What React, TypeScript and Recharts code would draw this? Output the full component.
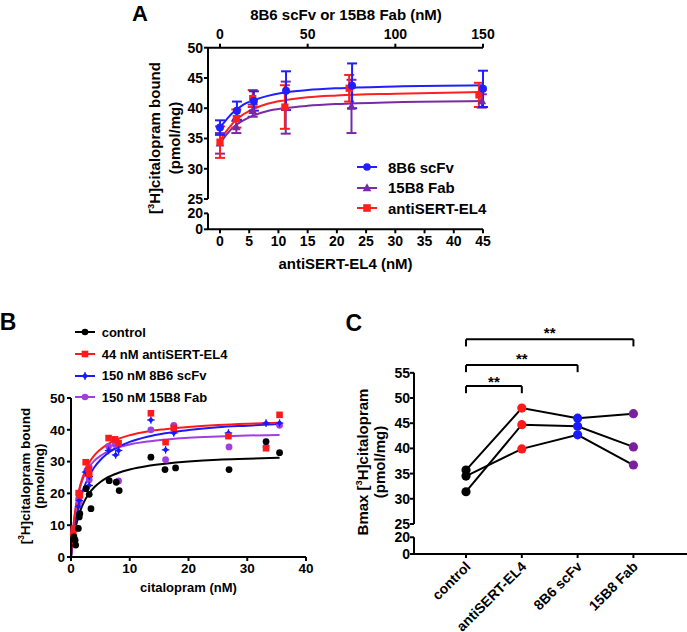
import React from 'react';
import { ComposedChart, Line, Scatter, XAxis, YAxis, ErrorBar, ReferenceLine, ReferenceDot, Legend } from 'recharts';

const FONT = '"Liberation Sans", Arial, Helvetica, sans-serif';

// ---------------- Panel A data ----------------
const aXTicks = [0, 5, 10, 15, 20, 25, 30, 35, 40, 45];
const aTopTicks = [0, 50, 100, 150];
const aYTicks = [0, 20, 25, 30, 35, 40, 45, 50];

// antibody concentration (top axis, nM) used for 8B6 scFv / 15B8 Fab
const aTopConc = [0, 9.4, 18.75, 37.5, 75, 150];

const aScFvX = [0, 2.9, 5.8, 11.3, 22.6, 45.0];
const aScFvY = [36.8, 39.6, 41.2, 42.9, 43.7, 43.2];
const aScFvErr = [1.2, 1.5, 1.6, 3.2, 3.7, 3.0];

const aFabX = [0, 2.8, 5.6, 11.25, 22.5, 44.8];
const aFabY = [34.2, 36.9, 39.6, 40.1, 40.3, 41.2];
const aFabErr = [1.7, 1.0, 1.0, 4.3, 4.4, 1.1];

const aEl4X = [0, 2.8, 5.6, 11.1, 22.1, 44.3];
const aEl4Y = [34.4, 38.3, 41.6, 40.2, 43.3, 42.2];
const aEl4Err = [2.6, 1.5, 1.4, 3.6, 2.2, 2.0];

const aFitX = [0, 1, 2, 3, 4, 6, 8, 11, 15, 20, 30, 45];
const aScFvFit = [36.8, 38.0, 39.1, 39.9, 40.6, 41.4, 42.0, 42.6, 43.0, 43.3, 43.6, 43.8];
const aEl4Fit = [34.6, 36.1, 37.3, 38.3, 39.0, 40.0, 40.7, 41.3, 41.8, 42.1, 42.4, 42.7];
const aFabFit = [34.2, 35.5, 36.6, 37.4, 38.0, 38.9, 39.5, 40.0, 40.4, 40.7, 41.0, 41.2];

// ---------------- Panel B data ----------------
const bXTicks = [0, 10, 20, 30, 40];
const bYTicks = [0, 10, 20, 30, 40, 50];

const bCtrlX = [0.5, 0.7, 0.8, 1.25, 1.4, 1.5, 2.55, 3.1, 3.4, 6.5, 7.7, 8.2, 13.6, 16.0, 17.8, 26.9, 33.2, 35.5];
const bCtrlY = [6.3, 5.3, 3.75, 9.0, 12.6, 13.6, 21.5, 19.7, 15.2, 24.0, 23.5, 20.9, 31.4, 27.5, 28.0, 27.5, 36.3, 32.8];

const bEl4X = [0.4, 0.5, 1.3, 1.5, 2.5, 3.0, 3.1, 6.4, 7.5, 8.1, 13.6, 16.1, 17.5, 26.8, 33.2, 35.5];
const bEl4Y = [7.3, 8.9, 20.1, 19.4, 29.8, 27.7, 26.0, 37.4, 37.0, 35.8, 45.2, 36.1, 40.6, 38.0, 34.2, 44.7];

const bScFvX = [0.5, 1.3, 1.4, 2.5, 3.1, 3.1, 6.4, 7.6, 8.1, 13.6, 16.1, 17.5, 26.8, 33.2, 35.5];
const bScFvY = [8.4, 15.9, 17.8, 26.7, 25.3, 22.5, 33.5, 32.1, 33.5, 43.1, 33.7, 39.0, 39.0, 42.1, 42.1];

const bFabX = [0.5, 1.3, 1.4, 2.7, 3.1, 3.1, 6.4, 7.5, 8.1, 13.6, 16.1, 17.5, 26.9, 33.2, 35.5];
const bFabY = [8.9, 18.3, 17.3, 27.2, 28.3, 24.3, 34.8, 35.4, 23.9, 40.0, 30.6, 41.4, 34.6, 34.6, 41.4];

const bFitX = [0, 0.5, 1, 1.5, 2, 3, 4, 5, 6, 8, 10, 13, 16, 20, 25, 30, 35.5];
const bCtrlFit = [0, 6.6, 11.0, 14.1, 16.5, 19.8, 22.0, 23.6, 24.8, 26.4, 27.5, 28.6, 29.3, 30.0, 30.6, 30.9, 31.2];
const bEl4Fit = [0, 11.0, 17.6, 22.0, 25.1, 29.3, 32.0, 33.8, 35.2, 37.1, 38.3, 39.5, 40.2, 40.9, 41.5, 41.9, 42.2];
const bScFvFit = [0, 7.9, 13.5, 17.6, 20.7, 25.2, 28.3, 30.5, 32.2, 34.6, 36.2, 37.8, 38.9, 39.9, 40.8, 41.3, 41.8];
const bFabFit = [0, 11.4, 17.7, 21.7, 24.5, 28.1, 30.3, 31.8, 32.9, 34.4, 35.4, 36.3, 36.9, 37.5, 37.9, 38.2, 38.4];

// ---------------- Panel C data ----------------
const cCats = ['control', 'antiSERT-EL4', '8B6 scFv', '15B8 Fab'];
const cExp1 = [35.7, 48.0, 46.0, 46.9];
const cExp2 = [31.4, 44.7, 44.4, 40.3];
const cExp3 = [34.5, 39.9, 42.7, 36.7];
const cYTicks = [0, 20, 25, 30, 35, 40, 45, 50, 55];
const cBrackets = [
  { from: 1, to: 2, y: 52.36, star: 53.3 },
  { from: 1, to: 3, y: 56.53, star: 57.9 },
  { from: 1, to: 4, y: 61.64, star: 62.9 },
];

// ---------------- colours ----------------
const A_BLUE = '#1f1fff';
const A_RED = '#ff1f1f';
const A_PURPLE = '#7b2aa5';
const B_BLACK = '#000000';
const B_RED = '#ff1a1a';
const B_BLUE = '#1a1aff';
const B_PURPLE = '#a23de0';
const C_COLORS = ['#000000', '#ff1a1a', '#1a1aff', '#7a1fa0'];

// broken-axis helpers (values >= 25 unchanged, lower segment compressed)
const aBreak = (v: number) => (v >= 25 ? v : 20 + (v / 20) * 2.63);
const cBreak = (v: number) => (v >= 25 ? v : 19.04 + (v / 20) * 3.32);

const mark = (kind: string, cx: number, cy: number, s: number, color: string) => {
  if (cx == null || cy == null) return <g />;
  switch (kind) {
    case 'square':
      return <rect x={cx - s} y={cy - s} width={2 * s} height={2 * s} fill={color} />;
    case 'triangle':
      return (
        <polygon
          points={`${cx},${cy - s * 1.25} ${cx + s * 1.15},${cy + s * 0.85} ${cx - s * 1.15},${cy + s * 0.85}`}
          fill={color}
        />
      );
    case 'diamond':
      return (
        <g>
          <polygon points={`${cx},${cy - s} ${cx + s},${cy} ${cx},${cy + s} ${cx - s},${cy}`} fill={color} />
          <line x1={cx - s - 0.8} x2={cx + s + 0.8} y1={cy} y2={cy} stroke={color} strokeWidth={1.2} />
          <line x1={cx} x2={cx} y1={cy - s - 0.8} y2={cy + s + 0.8} stroke={color} strokeWidth={1.2} />
        </g>
      );
    default:
      return <circle cx={cx} cy={cy} r={s} fill={color} />;
  }
};

const tickStyle = (size: number) => ({ fill: '#000', fontSize: size, fontWeight: 700, fontFamily: FONT });
const axisLineStyle = { stroke: '#000', strokeWidth: 2 };

const Sup3 = () => (
  <span style={{ fontSize: '0.62em', verticalAlign: '0.6em', lineHeight: 0 }}>3</span>
);

const Txt = ({ x, y, size, rot = 0, lh, children }: any) => (
  <div
    style={{
      position: 'absolute',
      left: x,
      top: y,
      transform: `translate(-50%, -50%) rotate(${rot}deg)`,
      fontFamily: FONT,
      fontWeight: 700,
      fontSize: size,
      lineHeight: lh ? `${lh}px` : 'normal',
      whiteSpace: 'nowrap',
      textAlign: 'center',
      color: '#000',
    }}
  >
    {children}
  </div>
);

const LegendBox = ({ items, fontSize, rowH, lineW, gap, ms }: any) => (
  <div style={{ fontFamily: FONT, fontWeight: 700, fontSize, color: '#000' }}>
    {items.map((it: any) => (
      <div key={it.name} style={{ display: 'flex', alignItems: 'center', height: rowH, whiteSpace: 'nowrap' }}>
        <svg width={lineW} height={14} style={{ marginRight: gap, flex: 'none' }}>
          <line x1={0} x2={lineW} y1={7} y2={7} stroke={it.color} strokeWidth={2} />
          {mark(it.shape, lineW / 2, 7, ms, it.color)}
        </svg>
        <span>{it.name}</span>
      </div>
    ))}
  </div>
);

const aLegendItems = [
  { name: '8B6 scFv', color: A_BLUE, shape: 'circle' },
  { name: '15B8 Fab', color: A_PURPLE, shape: 'triangle' },
  { name: 'antiSERT-EL4', color: A_RED, shape: 'square' },
];
const bLegendItems = [
  { name: 'control', color: B_BLACK, shape: 'circle' },
  { name: '44 nM antiSERT-EL4', color: B_RED, shape: 'square' },
  { name: '150 nM 8B6 scFv', color: B_BLUE, shape: 'diamond' },
  { name: '150 nM 15B8 Fab', color: B_PURPLE, shape: 'circle' },
];

const zip = (xs: number[], ys: number[], errs?: number[]) =>
  xs.map((x, i) => (errs ? { x, y: ys[i], err: errs[i] } : { x, y: ys[i] }));

// ---------------- Panel A ----------------
const A_XMIN = -2.05;
function PanelA() {
  const yLabels = new Map(aYTicks.map((t) => [aBreak(t), String(t)]));
  return (
    <ComposedChart width={687} height={290} margin={{ top: 17.7, right: 204, bottom: 30.7, left: 158 }}>
      <XAxis
        dataKey="x"
        type="number"
        domain={[A_XMIN, 45]}
        ticks={aXTicks}
        interval={0}
        height={30}
        tick={tickStyle(14)}
        tickSize={4}
        tickMargin={3}
        axisLine={axisLineStyle}
        tickLine={axisLineStyle}
      />
      <XAxis
        xAxisId="top"
        dataKey="x"
        orientation="top"
        type="number"
        domain={[-6.84, 150]}
        ticks={aTopTicks}
        interval={0}
        height={30}
        tick={tickStyle(14)}
        tickSize={4}
        tickMargin={5}
        axisLine={axisLineStyle}
        tickLine={axisLineStyle}
      />
      <YAxis
        dataKey="y"
        type="number"
        domain={[aBreak(0), 50]}
        ticks={aYTicks.map(aBreak)}
        tickFormatter={(v: number) => yLabels.get(v) ?? ''}
        interval={0}
        width={50}
        tick={tickStyle(14)}
        tickSize={4}
        tickMargin={1}
        axisLine={false}
        tickLine={axisLineStyle}
      />
      <ReferenceLine
        segment={[{ x: A_XMIN, y: 25 }, { x: A_XMIN, y: 50 }]}
        stroke="#000"
        strokeWidth={2}
        ifOverflow="visible"
      />
      <ReferenceLine
        segment={[{ x: A_XMIN, y: aBreak(0) }, { x: A_XMIN, y: aBreak(20) }]}
        stroke="#000"
        strokeWidth={2}
        ifOverflow="visible"
      />
      <Legend
        layout="vertical"
        align="center"
        verticalAlign="middle"
        wrapperStyle={{ left: 357, top: 157, width: 'auto', height: 'auto' }}
        content={() => <LegendBox items={aLegendItems} fontSize={15} rowH={20.5} lineW={20} gap={11} ms={3.8} />}
      />
      {/* invisible series tying the top (antibody nM) axis to the scFv data */}
      <Line
        xAxisId="top"
        data={zip(aTopConc, aScFvY)}
        dataKey="y"
        stroke="none"
        dot={false}
        activeDot={false}
        isAnimationActive={false}
        legendType="none"
      />
      <Line data={zip(aFitX, aFabFit)} dataKey="y" type="monotone" stroke={A_PURPLE} strokeWidth={2} dot={false} isAnimationActive={false} legendType="none" />
      <Line data={zip(aFitX, aEl4Fit)} dataKey="y" type="monotone" stroke={A_RED} strokeWidth={2} dot={false} isAnimationActive={false} legendType="none" />
      <Line data={zip(aFitX, aScFvFit)} dataKey="y" type="monotone" stroke={A_BLUE} strokeWidth={2} dot={false} isAnimationActive={false} legendType="none" />
      <Scatter data={zip(aFabX, aFabY, aFabErr)} fill={A_PURPLE} isAnimationActive={false} shape={(p: any) => mark('triangle', p.cx, p.cy, 3.8, A_PURPLE)}>
        <ErrorBar dataKey="err" direction="y" width={5} stroke={A_PURPLE} strokeWidth={2} />
      </Scatter>
      <Scatter data={zip(aEl4X, aEl4Y, aEl4Err)} fill={A_RED} isAnimationActive={false} shape={(p: any) => mark('square', p.cx, p.cy, 3.6, A_RED)}>
        <ErrorBar dataKey="err" direction="y" width={5} stroke={A_RED} strokeWidth={2} />
      </Scatter>
      <Scatter data={zip(aScFvX, aScFvY, aScFvErr)} fill={A_BLUE} isAnimationActive={false} shape={(p: any) => mark('circle', p.cx, p.cy, 4, A_BLUE)}>
        <ErrorBar dataKey="err" direction="y" width={5} stroke={A_BLUE} strokeWidth={2} />
      </Scatter>
    </ComposedChart>
  );
}

// ---------------- Panel B ----------------
function PanelB() {
  return (
    <ComposedChart width={340} height={320} margin={{ top: 88, right: 34, bottom: 43, left: 31 }}>
      <XAxis
        dataKey="x"
        type="number"
        domain={[0, 40]}
        ticks={bXTicks}
        interval={0}
        height={30}
        tick={tickStyle(13.5)}
        tickSize={4}
        tickMargin={2}
        axisLine={axisLineStyle}
        tickLine={axisLineStyle}
      />
      <YAxis
        dataKey="y"
        type="number"
        domain={[0, 50]}
        ticks={bYTicks}
        interval={0}
        width={40}
        tick={tickStyle(13.5)}
        tickSize={4}
        tickMargin={2}
        axisLine={axisLineStyle}
        tickLine={axisLineStyle}
      />
      <Legend
        layout="vertical"
        align="center"
        verticalAlign="middle"
        wrapperStyle={{ left: 75, top: 11.5, width: 'auto', height: 'auto' }}
        content={() => <LegendBox items={bLegendItems} fontSize={13} rowH={21.7} lineW={20} gap={6.7} ms={3.3} />}
      />
      <Line data={zip(bFitX, bCtrlFit)} dataKey="y" type="monotone" stroke={B_BLACK} strokeWidth={2} dot={false} isAnimationActive={false} legendType="none" />
      <Line data={zip(bFitX, bFabFit)} dataKey="y" type="monotone" stroke={B_PURPLE} strokeWidth={2} dot={false} isAnimationActive={false} legendType="none" />
      <Line data={zip(bFitX, bScFvFit)} dataKey="y" type="monotone" stroke={B_BLUE} strokeWidth={2} dot={false} isAnimationActive={false} legendType="none" />
      <Line data={zip(bFitX, bEl4Fit)} dataKey="y" type="monotone" stroke={B_RED} strokeWidth={2} dot={false} isAnimationActive={false} legendType="none" />
      <Scatter data={zip(bFabX, bFabY)} fill={B_PURPLE} isAnimationActive={false} shape={(p: any) => mark('circle', p.cx, p.cy, 3.4, B_PURPLE)} />
      <Scatter data={zip(bScFvX, bScFvY)} fill={B_BLUE} isAnimationActive={false} shape={(p: any) => mark('diamond', p.cx, p.cy, 3, B_BLUE)} />
      <Scatter data={zip(bEl4X, bEl4Y)} fill={B_RED} isAnimationActive={false} shape={(p: any) => mark('square', p.cx, p.cy, 3.3, B_RED)} />
      <Scatter data={zip(bCtrlX, bCtrlY)} fill={B_BLACK} isAnimationActive={false} shape={(p: any) => mark('circle', p.cx, p.cy, 3.4, B_BLACK)} />
    </ComposedChart>
  );
}

// ---------------- Panel C ----------------
const C_XMIN = 0.068;
const CTick = (p: any) => {
  const { x, y, payload } = p;
  const tx = x + 2;
  const ty = y + 4;
  return (
    <text
      x={tx}
      y={ty}
      dy="0.35em"
      textAnchor="end"
      transform={`rotate(-45 ${tx} ${ty})`}
      fill="#000"
      fontSize={14}
      fontWeight={700}
      fontFamily={FONT}
    >
      {cCats[payload.value - 1]}
    </text>
  );
};

function PanelC() {
  const rows = cCats.map((c, i) => ({ x: i + 1, name: c, e1: cExp1[i], e2: cExp2[i], e3: cExp3[i] }));
  const yLabels = new Map(cYTicks.map((t) => [cBreak(t), String(t)]));
  const dotFn = (p: any) => <circle key={`d${p.index}`} cx={p.cx} cy={p.cy} r={4.6} fill={C_COLORS[p.index]} />;
  const drop = 1.4;
  return (
    <ComposedChart width={347} height={332} data={rows} margin={{ top: 17.4, right: 0, bottom: 8, left: 34 }}>
      <XAxis
        dataKey="x"
        type="number"
        domain={[C_XMIN, 4.96]}
        ticks={[1, 2, 3, 4]}
        interval={0}
        height={70}
        tick={(p: any) => <CTick {...p} />}
        tickSize={4}
        tickMargin={2}
        axisLine={axisLineStyle}
        tickLine={axisLineStyle}
      />
      <YAxis
        type="number"
        domain={[cBreak(0), 66]}
        ticks={cYTicks.map(cBreak)}
        tickFormatter={(v: number) => yLabels.get(v) ?? ''}
        interval={0}
        width={40}
        tick={tickStyle(14)}
        tickSize={4}
        tickMargin={0}
        axisLine={false}
        tickLine={axisLineStyle}
      />
      <ReferenceLine segment={[{ x: C_XMIN, y: 25 }, { x: C_XMIN, y: 55 }]} stroke="#000" strokeWidth={2} ifOverflow="visible" />
      <ReferenceLine segment={[{ x: C_XMIN, y: cBreak(0) }, { x: C_XMIN, y: cBreak(20) }]} stroke="#000" strokeWidth={2} ifOverflow="visible" />
      {cBrackets.map((b, i) => (
        <ReferenceLine key={`h${i}`} segment={[{ x: b.from, y: b.y }, { x: b.to, y: b.y }]} stroke="#000" strokeWidth={2} ifOverflow="visible" />
      ))}
      {cBrackets.map((b, i) => (
        <ReferenceLine key={`l${i}`} segment={[{ x: b.from, y: b.y }, { x: b.from, y: b.y - drop }]} stroke="#000" strokeWidth={2} ifOverflow="visible" />
      ))}
      {cBrackets.map((b, i) => (
        <ReferenceLine key={`r${i}`} segment={[{ x: b.to, y: b.y }, { x: b.to, y: b.y - drop }]} stroke="#000" strokeWidth={2} ifOverflow="visible" />
      ))}
      {cBrackets.map((b, i) => (
        <ReferenceDot
          key={`s${i}`}
          x={(b.from + b.to) / 2}
          y={b.star}
          r={0}
          fill="none"
          stroke="none"
          ifOverflow="visible"
          label={{ value: '**', position: 'center', fill: '#000', fontSize: 15, fontWeight: 700, fontFamily: FONT }}
        />
      ))}
      <Line dataKey="e1" stroke="#000" strokeWidth={2} dot={dotFn} isAnimationActive={false} type="linear" />
      <Line dataKey="e2" stroke="#000" strokeWidth={2} dot={dotFn} isAnimationActive={false} type="linear" />
      <Line dataKey="e3" stroke="#000" strokeWidth={2} dot={dotFn} isAnimationActive={false} type="linear" />
    </ComposedChart>
  );
}

export default function App() {
  return (
    <div style={{ position: 'absolute', left: 0, top: 0, width: 687, height: 632, background: '#fff', overflow: 'hidden' }}>
      <div style={{ position: 'absolute', left: 0, top: 0 }}>
        <PanelA />
      </div>
      <div style={{ position: 'absolute', left: 0, top: 310 }}>
        <PanelB />
      </div>
      <div style={{ position: 'absolute', left: 340, top: 300 }}>
        <PanelC />
      </div>

      <Txt x={140} y={14} size={22}>A</Txt>
      <Txt x={346} y={13.5} size={15}>8B6 scFv or 15B8 Fab (nM)</Txt>
      <Txt x={345.5} y={263.3} size={15}>antiSERT-EL4 (nM)</Txt>
      <Txt x={165} y={138} size={15} rot={-90} lh={20}>
        [<Sup3 />H]citalopram bound
        <br />
        (pmol/mg)
      </Txt>

      <Txt x={8} y={321.7} size={23}>B</Txt>
      <Txt x={31.7} y={476} size={13.5} rot={-90} lh={13.5}>
        [<Sup3 />H]citalopram bound
        <br />
        (pmol/mg)
      </Txt>
      <Txt x={188.5} y={586.7} size={13}>citalopram (nM)</Txt>

      <Txt x={353.7} y={322.5} size={23}>C</Txt>
      <Txt x={370.5} y={461.5} size={15} rot={-90} lh={17}>
        Bmax [<Sup3 />H]citalopram
        <br />
        (pmol/mg)
      </Txt>
    </div>
  );
}
